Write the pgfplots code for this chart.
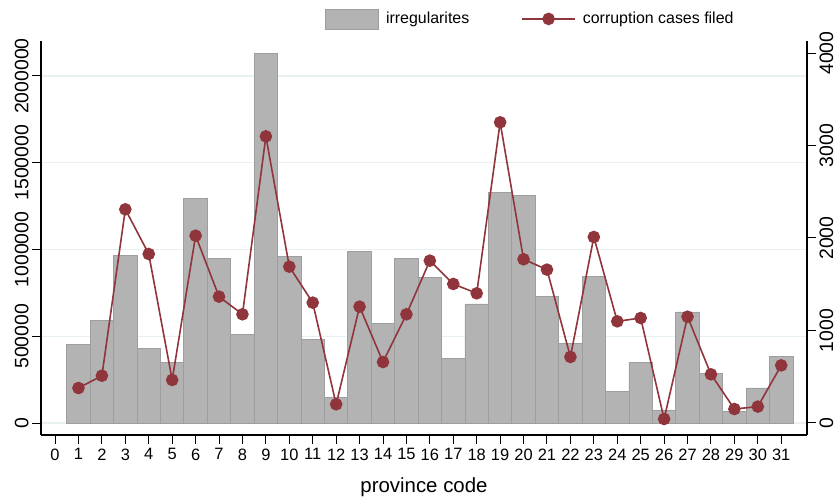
\documentclass[border=0pt]{standalone}
\usepackage{pgfplots}
\pgfplotsset{compat=1.18}
\usepackage{pgfplotstable}
\usepackage{fontspec}
\setmainfont{Liberation Sans}
\definecolor{barfill}{HTML}{B3B3B3}
\definecolor{baredge}{HTML}{9E9E9E}
\definecolor{linecol}{HTML}{90353B}
\definecolor{gridcol}{HTML}{E9F0F2}
\pgfplotstableread{
x irr cases
1 455000 378
2 592000 511
3 966000 2310
4 430000 1827
5 350000 465
6 1295000 2025
7 949000 1366
8 513000 1175
9 2131000 3099
10 961000 1690
11 484000 1301
12 150000 202
13 990000 1258
14 575000 659
15 949000 1175
16 838000 1755
17 371000 1503
18 686000 1402
19 1327000 3251
20 1310000 1770
21 730000 1658
22 459000 714
23 847000 2011
24 184000 1099
25 350000 1135
26 73000 43
27 640000 1149
28 286000 526
29 67000 151
30 202000 177
31 386000 623
}\data
\begin{document}
\begin{tikzpicture}
\useasboundingbox (-41bp,-65bp) rectangle (798bp,435bp);
\pgfplotsset{
  base/.style={
    scale only axis, width=766bp, height=394bp,
    xmin=-0.6, xmax=32.1,
    tick align=outside, major tick length=9bp,
    tick style={black, line width=1bp},
    axis line style={-, black, line width=1.3bp},
    /pgf/number format/assume math mode=true,
    /pgf/number format/fixed,
    /pgf/number format/1000 sep={},
    scaled y ticks=false,
    yticklabel style={font=\fontsize{19.5}{22}\selectfont},
    xticklabel style={font=\fontsize{16.5}{19}\selectfont},
  }
}
\begin{axis}[base,
  axis y line*=left, axis x line*=bottom,
  ymin=-69000, ymax=2201700,
  ytick={0,500000,1000000,1500000,2000000},
  xtick={0,...,31},
  ymajorgrids, grid style={gridcol, line width=1.3bp},
  yticklabel style={rotate=90, anchor=south, xshift=0bp},
  xticklabel style={yshift=-1bp},
  xlabel={province code},
  xlabel style={at={(axis description cs:0.5,0)}, anchor=center, yshift=-52bp, font=\fontsize{20.5}{24}\selectfont},
]
\addplot[ybar, bar width=1, bar shift=0pt, fill=barfill, draw=baredge, line width=0.8bp] table[x=x, y=irr] {\data};
\end{axis}
\begin{axis}[base,
  axis y line*=right, axis x line=none,
  ymin=-130, ymax=4130,
  ytick={0,1000,2000,3000,4000},
  yticklabel style={rotate=90, anchor=north},
  legend columns=2,
  legend style={at={(axis description cs:0.639,1.056)}, anchor=center, draw=none, fill=none,
    font=\fontsize{16}{19}\selectfont,
    /tikz/every even column/.append style={column sep=50bp}},
]
\addlegendimage{legend image code/.code={\draw[fill=barfill,draw=baredge,line width=0.8bp] (0bp,-10bp) rectangle (53bp,10bp); \path (58bp,0bp);}}
\addlegendentry{irregularites}
\addplot[linecol, line width=1.6bp, mark=*, mark size=5.5bp, mark options={fill=linecol, draw=linecol},
  legend image code/.code={\draw[linecol, line width=1.6bp, mark=*, mark size=5.5bp, mark options={fill=linecol, draw=linecol}, mark repeat=2, mark phase=2] plot coordinates {(0bp,0bp) (26.5bp,0bp) (53bp,0bp)}; \path (58bp,0bp);}]
  table[x=x, y=cases] {\data};
\addlegendentry{corruption cases filed}
\end{axis}
\end{tikzpicture}
\end{document}
